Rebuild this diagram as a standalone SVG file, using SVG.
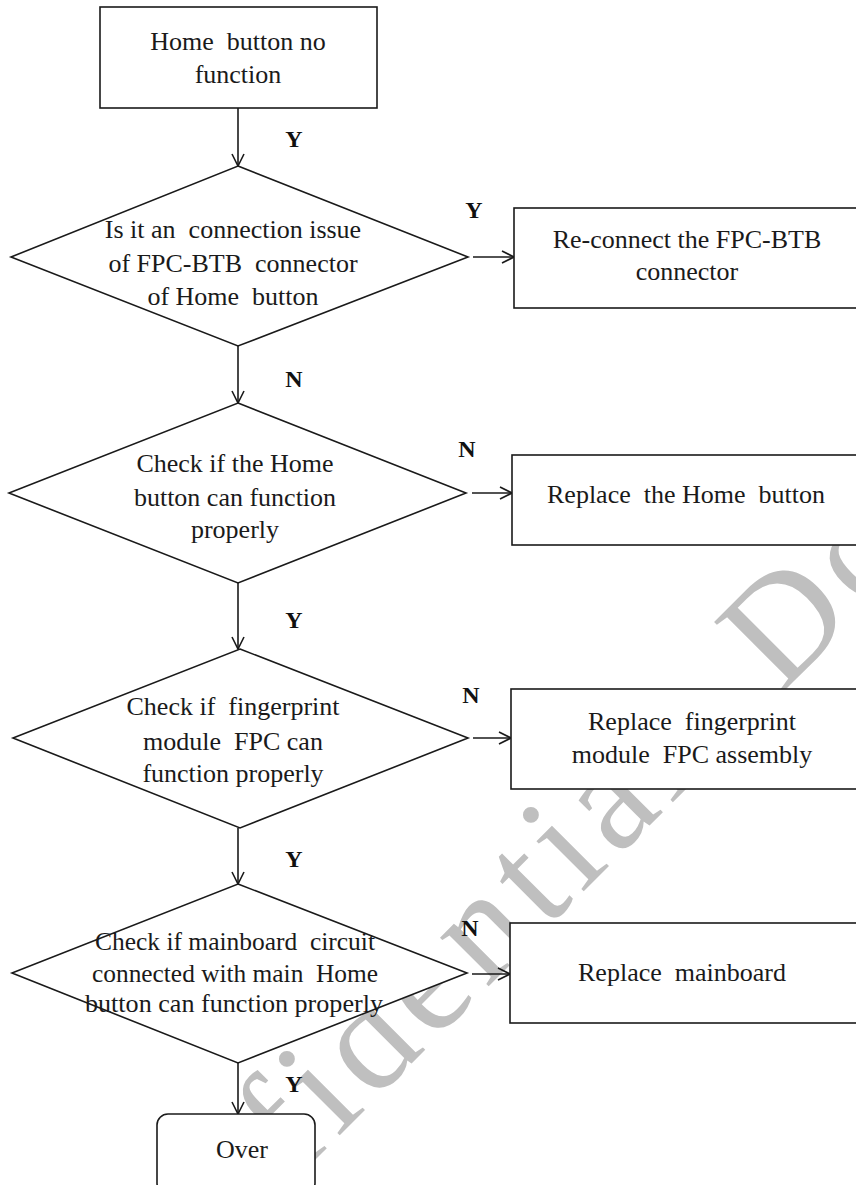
<svg xmlns="http://www.w3.org/2000/svg" width="856" height="1185" viewBox="0 0 856 1185">
  <style>
    .shape { fill: #ffffff; stroke: #1a1a1a; stroke-width: 1.6; }
    .conn { fill: none; stroke: #1a1a1a; stroke-width: 1.6; }
    .lbl { font-family: "Liberation Serif", "Times New Roman", serif; font-size: 24px; font-weight: bold; fill: #111111; text-anchor: middle; }
    .txt { font-family: "Liberation Serif", "Times New Roman", serif; font-size: 26px; fill: #1a1a1a; text-anchor: middle; white-space: pre; }
    .wm { font-family: "Liberation Serif", "Times New Roman", serif; font-size: 150px; fill: #bfbfbf; letter-spacing: 9px; word-spacing: 58px; font-variant-ligatures: none; }
  </style>
  <defs>
    <marker id="arrow" viewBox="0 0 14 14" refX="13" refY="7" markerWidth="14" markerHeight="14" markerUnits="userSpaceOnUse" orient="auto">
      <path d="M1,1 L13,7 L1,13" fill="none" stroke="#1a1a1a" stroke-width="1.6"/>
    </marker>
  </defs>

  <rect width="856" height="1185" fill="#ffffff"/>

  <!-- background watermark -->
  <g id="watermark">
    <text class="wm" transform="translate(100,1375) rotate(-45)">Confidential Do</text>
  </g>

  <!-- connectors -->
  <g id="connectors">
    <line class="conn" x1="238" y1="108" x2="238" y2="166" marker-end="url(#arrow)"/>
    <line class="conn" x1="238" y1="346" x2="238" y2="403" marker-end="url(#arrow)"/>
    <line class="conn" x1="238" y1="583" x2="238" y2="649" marker-end="url(#arrow)"/>
    <line class="conn" x1="238" y1="828" x2="238" y2="884" marker-end="url(#arrow)"/>
    <line class="conn" x1="238" y1="1063" x2="238" y2="1114" marker-end="url(#arrow)"/>
    <line class="conn" x1="473" y1="257" x2="514" y2="257" marker-end="url(#arrow)"/>
    <line class="conn" x1="472" y1="493" x2="512" y2="493" marker-end="url(#arrow)"/>
    <line class="conn" x1="473" y1="738" x2="511" y2="738" marker-end="url(#arrow)"/>
    <line class="conn" x1="472" y1="974" x2="510" y2="974" marker-end="url(#arrow)"/>
    <text class="lbl" x="294" y="147">Y</text>
    <text class="lbl" x="474" y="218">Y</text>
    <text class="lbl" x="294" y="387">N</text>
    <text class="lbl" x="467" y="457">N</text>
    <text class="lbl" x="294" y="628">Y</text>
    <text class="lbl" x="471" y="703">N</text>
    <text class="lbl" x="294" y="867">Y</text>
    <text class="lbl" x="470" y="936">N</text>
    <text class="lbl" x="294" y="1092">Y</text>
  </g>

  <g id="nodes">
    <g id="start">
      <rect class="shape" x="100" y="7" width="277" height="101"/>
      <text class="txt" x="238" y="50">Home  button no</text>
      <text class="txt" x="238" y="83">function</text>
    </g>

    <g id="check-connector">
      <path class="shape" d="M238,166 L468,257 L238,346 L11,257 Z"/>
      <text class="txt" x="233" y="238">Is it an  connection issue</text>
      <text class="txt" x="233" y="272">of FPC-BTB  connector</text>
      <text class="txt" x="233" y="305">of Home  button</text>
    </g>

    <g id="reconnect">
      <rect class="shape" x="514" y="208" width="360" height="100"/>
      <text class="txt" x="687" y="248">Re-connect the FPC-BTB</text>
      <text class="txt" x="687" y="280">connector</text>
    </g>

    <g id="check-home-button">
      <path class="shape" d="M238,403 L466,493 L238,583 L9,493 Z"/>
      <text class="txt" x="235" y="472">Check if the Home</text>
      <text class="txt" x="235" y="506">button can function</text>
      <text class="txt" x="235" y="538">properly</text>
    </g>

    <g id="replace-home-button">
      <rect class="shape" x="512" y="455" width="360" height="90"/>
      <text class="txt" x="686" y="503">Replace  the Home  button</text>
    </g>

    <g id="check-fingerprint">
      <path class="shape" d="M240,649 L468,738 L240,828 L13,738 Z"/>
      <text class="txt" x="233" y="715">Check if  fingerprint</text>
      <text class="txt" x="233" y="750">module  FPC can</text>
      <text class="txt" x="233" y="782">function properly</text>
    </g>

    <g id="replace-fingerprint">
      <rect class="shape" x="511" y="689" width="360" height="100"/>
      <text class="txt" x="692" y="730">Replace  fingerprint</text>
      <text class="txt" x="692" y="763">module  FPC assembly</text>
    </g>

    <g id="check-mainboard">
      <path class="shape" d="M238,884 L467,973 L238,1063 L12,973 Z"/>
      <text class="txt" x="235" y="950" textLength="280" lengthAdjust="spacingAndGlyphs">Check if mainboard  circuit</text>
      <text class="txt" x="235" y="982" textLength="286" lengthAdjust="spacingAndGlyphs">connected with main  Home</text>
      <text class="txt" x="234" y="1012" textLength="298" lengthAdjust="spacingAndGlyphs">button can function properly</text>
    </g>

    <g id="replace-mainboard">
      <rect class="shape" x="510" y="923" width="360" height="100"/>
      <text class="txt" x="682" y="981">Replace  mainboard</text>
    </g>

    <g id="over">
      <rect class="shape" x="157" y="1114" width="158" height="80" rx="11" ry="11"/>
      <text class="txt" x="242" y="1158">Over</text>
    </g>
  </g>
</svg>
